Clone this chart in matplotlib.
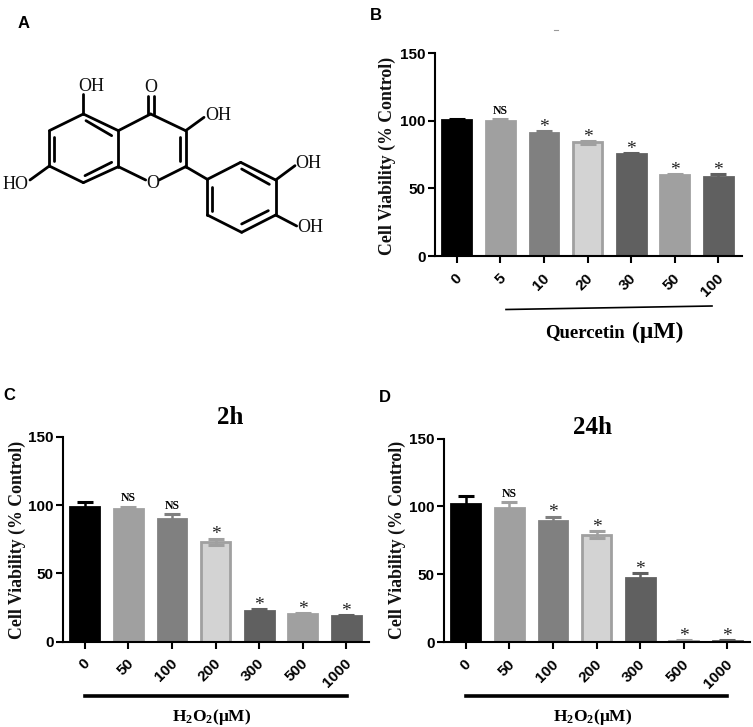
import matplotlib
matplotlib.use("Agg")
import matplotlib.pyplot as plt
from matplotlib.transforms import ScaledTranslation

plt.rcParams['mathtext.fontset'] = 'custom'
plt.rcParams['mathtext.rm'] = 'Liberation Serif:bold'
plt.rcParams['mathtext.default'] = 'regular'

W, H = 753, 727
SANS = 'Liberation Sans'
SERIF = 'Liberation Serif'

# ---- chart data ----
labels_b = ['0', '5', '10', '20', '30', '50', '100']
values_b = [100.5, 100, 91, 84, 75.5, 59.5, 58.5]
errors_b = [0.5, 1.5, 1.5, 1, 0.7, 1, 2]
marks_b = ['', 'NS', '*', '*', '*', '*', '*']

labels_c = ['0', '50', '100', '200', '300', '500', '1000']
values_c = [98.5, 97, 90, 73, 22.5, 20, 18.8]
errors_c = [4, 2, 3.5, 2.5, 1.5, 0.7, 0.8]
marks_c = ['', 'NS', 'NS', '*', '*', '*', '*']

labels_d = ['0', '50', '100', '200', '300', '500', '1000']
values_d = [102, 98.7, 89, 79, 47.5, 1, 1]
errors_d = [5.5, 4.5, 3.5, 2.5, 3, 0.5, 0.5]
marks_d = ['', 'NS', '*', '*', '*', '*', '*']

fills = ['#000000', '#a0a0a0', '#808080', '#d3d3d3', '#606060', '#a0a0a0', '#606060']
edges = ['#000000', '#a0a0a0', '#808080', '#a0a0a0', '#606060', '#a0a0a0', '#606060']

# ---- molecule (quercetin) drawing units ----
bonds = [
    ((250, 342), (355, 392)), ((355, 392), (355, 500)), ((355, 500), (250, 548)),
    ((250, 548), (148, 498)), ((148, 498), (148, 392)), ((148, 392), (250, 342)),
    ((355, 392), (452, 342)), ((452, 342), (557, 392)), ((557, 392), (557, 500)),
    ((557, 500), (477, 540)), ((437, 540), (355, 500)),
    ((557, 500), (622, 538)),
    ((622, 538), (722, 487)), ((722, 487), (827, 540)), ((827, 540), (827, 645)),
    ((827, 645), (725, 697)), ((725, 697), (622, 645)), ((622, 645), (622, 538)),
    ((250, 342), (250, 282)), ((557, 392), (612, 352)), ((827, 540), (885, 497)),
    ((827, 645), (890, 678)), ((148, 498), (90, 540)),
    ((444, 342), (444, 288)), ((461, 342), (461, 288)),
    ((258, 362), (335, 407)), ((162, 410), (162, 482)), ((255, 527), (335, 487)),
    ((540, 410), (540, 482)),
    ((725, 507), (808, 553)), ((637, 560), (637, 632)), ((725, 672), (805, 632)),
]
atoms = [('OH', 273, 259), ('O', 453, 263), ('OH', 656, 346), ('OH', 924, 491),
         ('OH', 930, 683), ('HO', 47, 553), ('O', 457, 552)]

fig = plt.figure(figsize=(W / 100, H / 100), dpi=100)


def box(left, top, right, bottom):
    return [left / W, 1 - bottom / H, (right - left) / W, (bottom - top) / H]


def panel(rect, labels, values, errors, marks):
    ax = fig.add_axes(box(*rect))
    xs = list(range(len(labels)))
    ax.bar(xs, values, width=0.665, color=fills, edgecolor=edges, linewidth=2.0, zorder=2)
    for x, v, e, c in zip(xs, values, errors, edges):
        ax.errorbar(x, v, yerr=e, color=c, capsize=5.5, capthick=2.2,
                    elinewidth=1.8, zorder=2.5, fmt='none')
    for x, v, e, m in zip(xs, values, errors, marks):
        if m == 'NS':
            ax.annotate(m, (x, v + e), xytext=(0, 1.5), textcoords='offset points',
                        ha='center', va='bottom', fontsize=8.5, family=SERIF, weight='bold')
        elif m:
            ax.annotate(m, (x, v + e), xytext=(0, -3.5), textcoords='offset points',
                        ha='center', va='bottom', fontsize=14, family=SERIF, color='#222222')
    ax.set_xlim(-0.5, (rect[2] - rect[0]) / 43.6 - 0.5)
    ax.set_ylim(0, 150)
    ax.set_yticks([0, 50, 100, 150])
    ax.set_xticks(xs)
    ax.set_xticklabels(labels, rotation=45, ha='right', va='center', rotation_mode='anchor')
    ax.tick_params(axis='both', width=1.5, length=5, pad=1.5)
    shift = ScaledTranslation(3 / 100, -11 / 100, fig.dpi_scale_trans)
    for t in ax.get_xticklabels():
        t.set_transform(t.get_transform() + shift)
    for t in ax.get_xticklabels() + ax.get_yticklabels():
        t.set_fontfamily(SANS)
        t.set_fontweight('bold')
        t.set_fontsize(11)
    for s in ('top', 'right'):
        ax.spines[s].set_visible(False)
    for s in ('left', 'bottom'):
        ax.spines[s].set_linewidth(1.5)
        ax.spines[s].set_zorder(3)
    ax.patch.set_alpha(0)
    return ax


panel((435, 53, 742, 256), labels_b, values_b, errors_b, marks_b)
panel((63, 437, 369, 641.5), labels_c, values_c, errors_c, marks_c)
panel((444, 438.5, 750, 642), labels_d, values_d, errors_d, marks_d)

# molecule
mol = fig.add_axes(box(0, 0, 370, 260))
mol.set_xlim(0, 1110)
mol.set_ylim(780, 0)
mol.axis('off')
for a, b in bonds:
    mol.plot([a[0], b[0]], [a[1], b[1]], color='black', lw=2.0, solid_capstyle='round')
for s, x, y in atoms:
    mol.text(x, y, s, ha='center', va='center', family=SERIF, fontsize=13, color='#111111')

# overlay in pixels
ov = fig.add_axes([0, 0, 1, 1])
ov.set_xlim(0, W)
ov.set_ylim(H, 0)
ov.axis('off')
ov.patch.set_alpha(0)

for s, x, y in [('A', 24, 23), ('B', 376, 15), ('C', 9, 396), ('D', 385, 397)]:
    ov.text(x, y, s, ha='center', va='center', family=SANS, weight='bold', fontsize=12)
for x, y in [(387, 156), (17, 540), (397, 540)]:
    ov.text(x, y, 'Cell Viability (% Control)', rotation=90, ha='center', va='center',
            family=SERIF, weight='bold', fontsize=12.8, color='#111111')
ov.text(230, 418, '2h', ha='center', va='center', family=SERIF, weight='bold', fontsize=18)
ov.text(593, 428, '24h', ha='center', va='center', family=SERIF, weight='bold', fontsize=18)
ov.plot([506, 712], [309.5, 306], color='black', lw=1.2)
ov.plot([85, 347], [696, 696], color='black', lw=2.6)
ov.plot([466, 727], [696, 696], color='black', lw=2.6)
ov.plot([554, 558], [30, 30], color='#999999', lw=0.8)
ov.text(585, 333, 'Quercetin', ha='center', va='center', family=SERIF, weight='bold', fontsize=13.5)
ov.text(658, 332, '(μM)', ha='center', va='center', family=SERIF, weight='bold', fontsize=17)
for x in (212, 593):
    ov.text(x, 717, 'H$_2$O$_2$(μM)', ha='center', va='center', family=SERIF, weight='bold', fontsize=12.5)

fig.savefig('out.png', dpi=100, facecolor='white')
